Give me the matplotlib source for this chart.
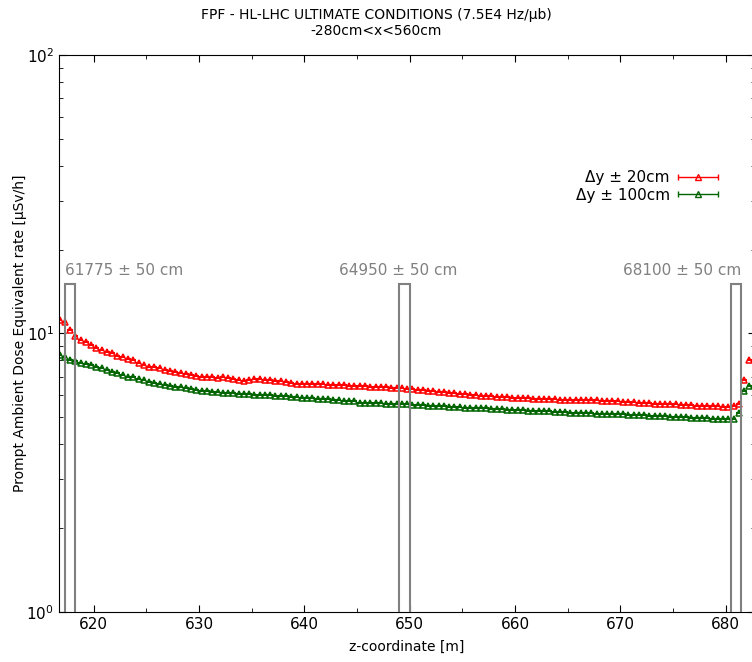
import numpy as np
import matplotlib
matplotlib.use('Agg')
import matplotlib.pyplot as plt
from matplotlib.patches import Rectangle
from matplotlib.container import ErrorbarContainer
from matplotlib.legend_handler import HandlerErrorbar

# dose rate [uSv/h] every 0.5 m starting at z = 616.75 m
red = [11.2, 11.0, 10.3, 9.8, 9.5, 9.3, 9.1, 8.9, 8.7, 8.6,
       8.5, 8.3, 8.2, 8.1, 8.0, 7.85, 7.7, 7.6, 7.55, 7.5,
       7.4, 7.35, 7.3, 7.2, 7.15, 7.1, 7.05, 7.0, 6.95, 6.95,
       6.9, 6.95, 6.9, 6.85, 6.8, 6.75, 6.8, 6.85, 6.85, 6.8,
       6.8, 6.75, 6.75, 6.7, 6.65, 6.6, 6.6, 6.6, 6.6, 6.58,
       6.57, 6.55, 6.55, 6.53, 6.52, 6.5, 6.5, 6.48, 6.47, 6.45,
       6.44, 6.42, 6.4, 6.38, 6.37, 6.35, 6.33, 6.3, 6.28, 6.25,
       6.22, 6.2, 6.17, 6.15, 6.12, 6.1, 6.08, 6.05, 6.03, 6.0,
       5.98, 5.96, 5.95, 5.93, 5.92, 5.9, 5.87, 5.85, 5.85, 5.85,
       5.83, 5.82, 5.82, 5.8, 5.8, 5.79, 5.78, 5.78, 5.77, 5.77,
       5.76, 5.75, 5.75, 5.74, 5.73, 5.72, 5.7, 5.69, 5.68, 5.66,
       5.65, 5.63, 5.62, 5.6, 5.6, 5.58, 5.57, 5.56, 5.55, 5.53,
       5.52, 5.51, 5.5, 5.5, 5.48, 5.47, 5.46, 5.45, 5.47, 5.6,
       6.8, 8.0]
green = [8.4, 8.2, 8.05, 7.95, 7.85, 7.75, 7.7, 7.6, 7.5, 7.4,
         7.3, 7.2, 7.1, 7.0, 6.95, 6.85, 6.8, 6.7, 6.65, 6.6,
         6.55, 6.5, 6.45, 6.4, 6.35, 6.3, 6.25, 6.2, 6.2, 6.15,
         6.15, 6.1, 6.1, 6.1, 6.05, 6.05, 6.05, 6.0, 6.0, 6.0,
         6.0, 5.95, 5.95, 5.95, 5.9, 5.9, 5.85, 5.85, 5.85, 5.8,
         5.8, 5.8, 5.75, 5.75, 5.7, 5.7, 5.7, 5.65, 5.65, 5.64,
         5.62, 5.62, 5.6, 5.6, 5.58, 5.58, 5.56, 5.55, 5.54, 5.52,
         5.5, 5.5, 5.48, 5.47, 5.46, 5.45, 5.44, 5.42, 5.42, 5.4,
         5.39, 5.38, 5.37, 5.35, 5.34, 5.33, 5.32, 5.3, 5.3, 5.29,
         5.28, 5.27, 5.26, 5.25, 5.24, 5.22, 5.21, 5.2, 5.2, 5.19,
         5.18, 5.17, 5.16, 5.15, 5.14, 5.13, 5.13, 5.12, 5.11, 5.1,
         5.09, 5.08, 5.07, 5.06, 5.05, 5.04, 5.03, 5.02, 5.01, 5.0,
         4.99, 4.98, 4.97, 4.96, 4.95, 4.94, 4.93, 4.92, 4.95, 5.2,
         6.2, 6.5]
z = 616.75 + 0.5 * np.arange(len(red))

# detector windows (centre in cm, half width 50 cm)
windows = [61775, 64950, 68100]
win_labels = ['61775 ± 50 cm', '64950 ± 50 cm', '68100 ± 50 cm']
label_x = [622.85, 648.9, 675.85]

fig = plt.figure(figsize=(7.52, 6.62), dpi=100)
ax = fig.add_axes([0.0785, 0.0755, 0.925, 0.8415])

ax.errorbar(z, red, xerr=0.25, fmt='^', color='red', mfc='none', ms=5,
            mew=1.1, elinewidth=1.5, capsize=0)
ax.errorbar(z, green, xerr=0.25, fmt='^', color='darkgreen', mfc='none', ms=5,
            mew=1.1, elinewidth=1.5, capsize=0)

# legend proxies (with caps, like the original handle)
h1 = ax.errorbar([np.nan], [np.nan], xerr=[0.25], fmt='^', color='red', mfc='none',
                 ms=4, mew=1, elinewidth=1, capsize=2.5, label='Δy ± 20cm')
h2 = ax.errorbar([np.nan], [np.nan], xerr=[0.25], fmt='^', color='darkgreen', mfc='none',
                 ms=4, mew=1, elinewidth=1, capsize=2.5, label='Δy ± 100cm')

for w, lab, lx in zip(windows, win_labels, label_x):
    c = w / 100.0
    ax.add_patch(Rectangle((c - 0.5, 0.5), 1.0, 14.5, fill=False,
                           edgecolor='gray', lw=1.5, zorder=3))
    ax.text(lx, 16.8, lab, ha='center', va='center', color='gray', fontsize=11)

ax.set_yscale('log')
ax.set_ylim(1, 100)
ax.set_xlim(616.7, 682.75)
ax.set_xticks([620, 630, 640, 650, 660, 670, 680])
ax.set_xticks(np.arange(625, 683, 10), minor=True)
ax.tick_params(which='both', direction='in', top=True, right=True, labelsize=11)
ax.tick_params(which='major', length=5)
ax.tick_params(which='minor', length=3)

ax.set_xlabel('z-coordinate [m]', fontsize=10, labelpad=6)
ax.set_ylabel('Prompt Ambient Dose Equivalent rate [µSv/h]', fontsize=10, labelpad=-0.5)
fig.text(0.5, 0.965, 'FPF - HL-LHC ULTIMATE CONDITIONS (7.5E4 Hz/µb)\n-280cm<x<560cm',
         ha='center', va='center', fontsize=10, linespacing=1.2)

ax.legend(handles=[h1, h2], loc='upper right', bbox_to_anchor=(0.956, 0.804),
          frameon=False, markerfirst=False, handlelength=2.6, handletextpad=0.55,
          fontsize=11, borderaxespad=0, labelspacing=0.15,
          handler_map={ErrorbarContainer: HandlerErrorbar(xerr_size=1.3)})

fig.savefig('out.png', dpi=100)
